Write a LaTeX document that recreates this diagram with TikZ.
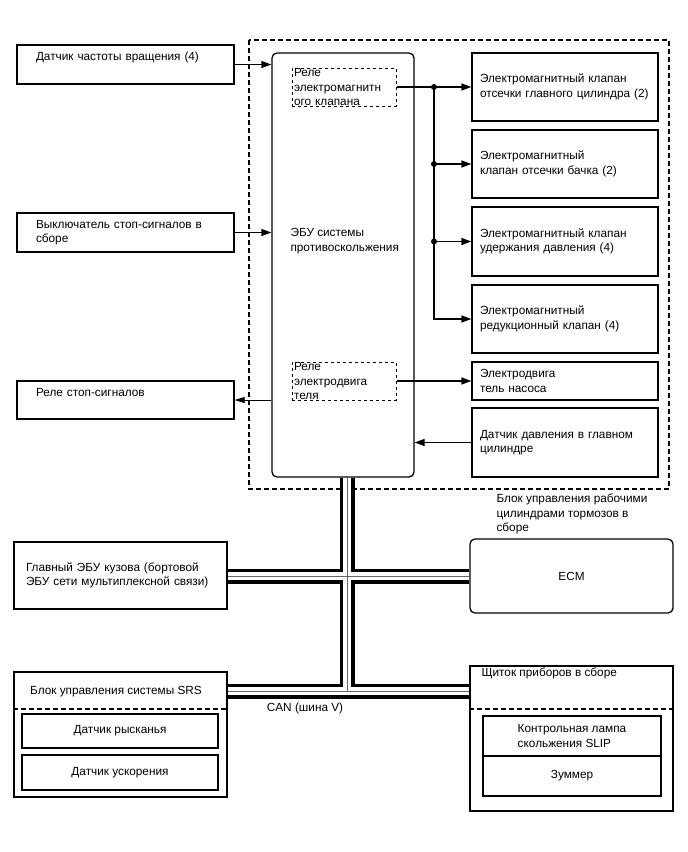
\documentclass[tikz,border=0pt]{standalone}
\usepackage{fontspec}
\setmainfont{Liberation Sans}
\usepackage{tikz}
\usetikzlibrary{arrows.meta,positioning,backgrounds,calc}
\tikzset{
  blk/.style   ={draw,line width=1.3pt,align=left,inner ysep=0pt},
  relay/.style ={draw,dashed,line width=1pt,align=left,text width=100pt,
                 inner xsep=2pt,inner ysep=-1pt,minimum height=38pt},
  ecubox/.style={draw,line width=1.3pt,rounded corners=5pt},
  zone/.style  ={draw,line width=1.1pt,dash pattern=on 5pt off 3pt},
  divide/.style={line width=1.1pt,dash pattern=on 5pt off 3pt},
  flow/.style  ={-{Triangle[length=10pt,width=7pt]},line width=1.3pt},
  thinflow/.style={-{Triangle[length=10pt,width=6pt]},line width=0.8pt},
  dot/.style   ={circle,fill,inner sep=0pt,minimum size=6pt},
  busout/.style={line width=15pt,black},
  busgap/.style={line width=8pt,white},
  buswire/.style={line width=1pt,black!60}
}

\begin{document}
\begin{tikzpicture}[x=1pt,y=-1pt,
    every node/.style={font=\fontsize{11.8}{14.5}\selectfont},
    lbox/.style={blk,minimum width=217pt,text width=179pt},
    rbox/.style={blk,minimum width=186pt,text width=170pt}]
  \useasboundingbox (0,0) rectangle (688,852);
  % inputs / outputs on the left
  \node[lbox,minimum height=39pt,text depth=17pt] (speed) at (125.5,64.5) {Датчик частоты вращения (4)};
  \node[lbox,minimum height=39pt] (stopsw) at (125.5,232.5) {Выключатель стоп-сигналов в\\сборе};
  \node[lbox,minimum height=38pt,text depth=14.5pt] (stoprelay) at (125.5,400) {Реле стоп-сигналов};
  \node[blk,minimum width=213pt,text width=189pt,minimum height=67pt] (bodyecu) at (120.5,575.5)
       {Главный ЭБУ кузова (бортовой\\ЭБУ сети мультиплексной связи)};
  % skid control ECU
  \node[ecubox,minimum width=142pt,minimum height=424pt] (ecu) at (343,265) {};
  \node[align=left,anchor=west] (ecutext) at (287,241) {ЭБУ системы\\противоскольжения};
  \node[relay] (relay1) at (344,87) {Реле\\электромагнитн\\ого клапана};
  \node[relay] (relay2) at (344,381) {Реле\\электродвига\\теля};
  % actuators and sensor on the right
  \node[rbox,minimum height=68pt] (mcv) at (565,87) {Электромагнитный клапан\\отсечки главного цилиндра (2)};
  \node[rbox,minimum height=68pt] (rsv) at (565,164) {Электромагнитный\\клапан отсечки бачка (2)};
  \node[rbox,minimum height=69pt] (hold) at (565,241.5) {Электромагнитный клапан\\удержания давления (4)};
  \node[rbox,minimum height=68pt] (red) at (565,319) {Электромагнитный\\редукционный клапан (4)};
  \node[rbox,minimum height=38pt] (pump) at (565,381) {Электродвига\\тель насоса};
  \node[rbox,minimum height=69pt] (mcs) at (565,442.5) {Датчик давления в главном\\цилиндре};
  \node[align=left,anchor=west] (actlabel) at (493,514) {Блок управления рабочими\\цилиндрами тормозов в\\сборе};
  % other ECUs on the bus
  \node[ecubox,minimum width=203pt,minimum height=74pt] (ecm) at (571.5,576) {ECM};
  \node[blk,minimum width=213pt,minimum height=125pt] (srs) at (120.5,734.5) {};
  \node (srstitle) at (116,692) {Блок управления системы SRS};
  \node[blk,minimum width=196pt,minimum height=34pt,align=center] (yaw) at (120,731) {Датчик рысканья};
  \node[blk,minimum width=196pt,minimum height=35pt,align=center] (accel) at (120,772.5) {Датчик ускорения};
  \node[blk,minimum width=203pt,minimum height=145pt] (meter) at (571.5,738.5) {};
  \node[anchor=west] (metertitle) at (478,673) {Щиток приборов в сборе};
  \node[blk,minimum width=178pt,minimum height=40pt] (lamp) at (572,736) {Контрольная лампа\\скольжения SLIP};
  \node[blk,minimum width=178pt,minimum height=40pt,align=center] (buzzer) at (572,776) {Зуммер};
  \node (canlabel) at (305,708) {CAN (шина V)};
  \draw[divide] (srs.west |- 0,709) -- (srs.east |- 0,709);
  \draw[divide] (meter.west |- 0,709) -- (meter.east |- 0,709);
  % signals
  \draw[flow] (speed) -- (speed -| ecu.west);
  \draw[flow] (stopsw) -- (stopsw -| ecu.west);
  \draw[thinflow] (stoprelay -| ecu.west) -- (stoprelay);
  \coordinate (jn) at (434,87);
  \draw[flow] (relay1) -- (mcv);
  \draw[flow] (jn) |- (red);
  \draw[flow] (jn |- rsv) -- (rsv);
  \draw[flow] (jn |- hold) -- (hold);
  \node[dot] (d1) at (jn) {};
  \node[dot] (d2) at (jn |- rsv) {};
  \node[dot] (d3) at (jn |- hold) {};
  \draw[flow] (relay2) -- (pump);
  \draw[flow] (mcs) -- (mcs -| ecu.east);
  % brake actuator zone and CAN bus
  \coordinate (hub) at (347,576);
  \coordinate (tee) at (347,691);
  \begin{scope}[on background layer]
    \draw[zone] (249,40) rectangle (669,489);
    \foreach \s in {busout,busgap,buswire}
      \draw[\s] (ecu.south -| hub) -- (tee)
                (bodyecu.east |- hub) -- (hub -| ecm.west)
                (srs.east |- tee) -- (tee -| meter.west);
  \end{scope}
\end{tikzpicture}
\end{document}
